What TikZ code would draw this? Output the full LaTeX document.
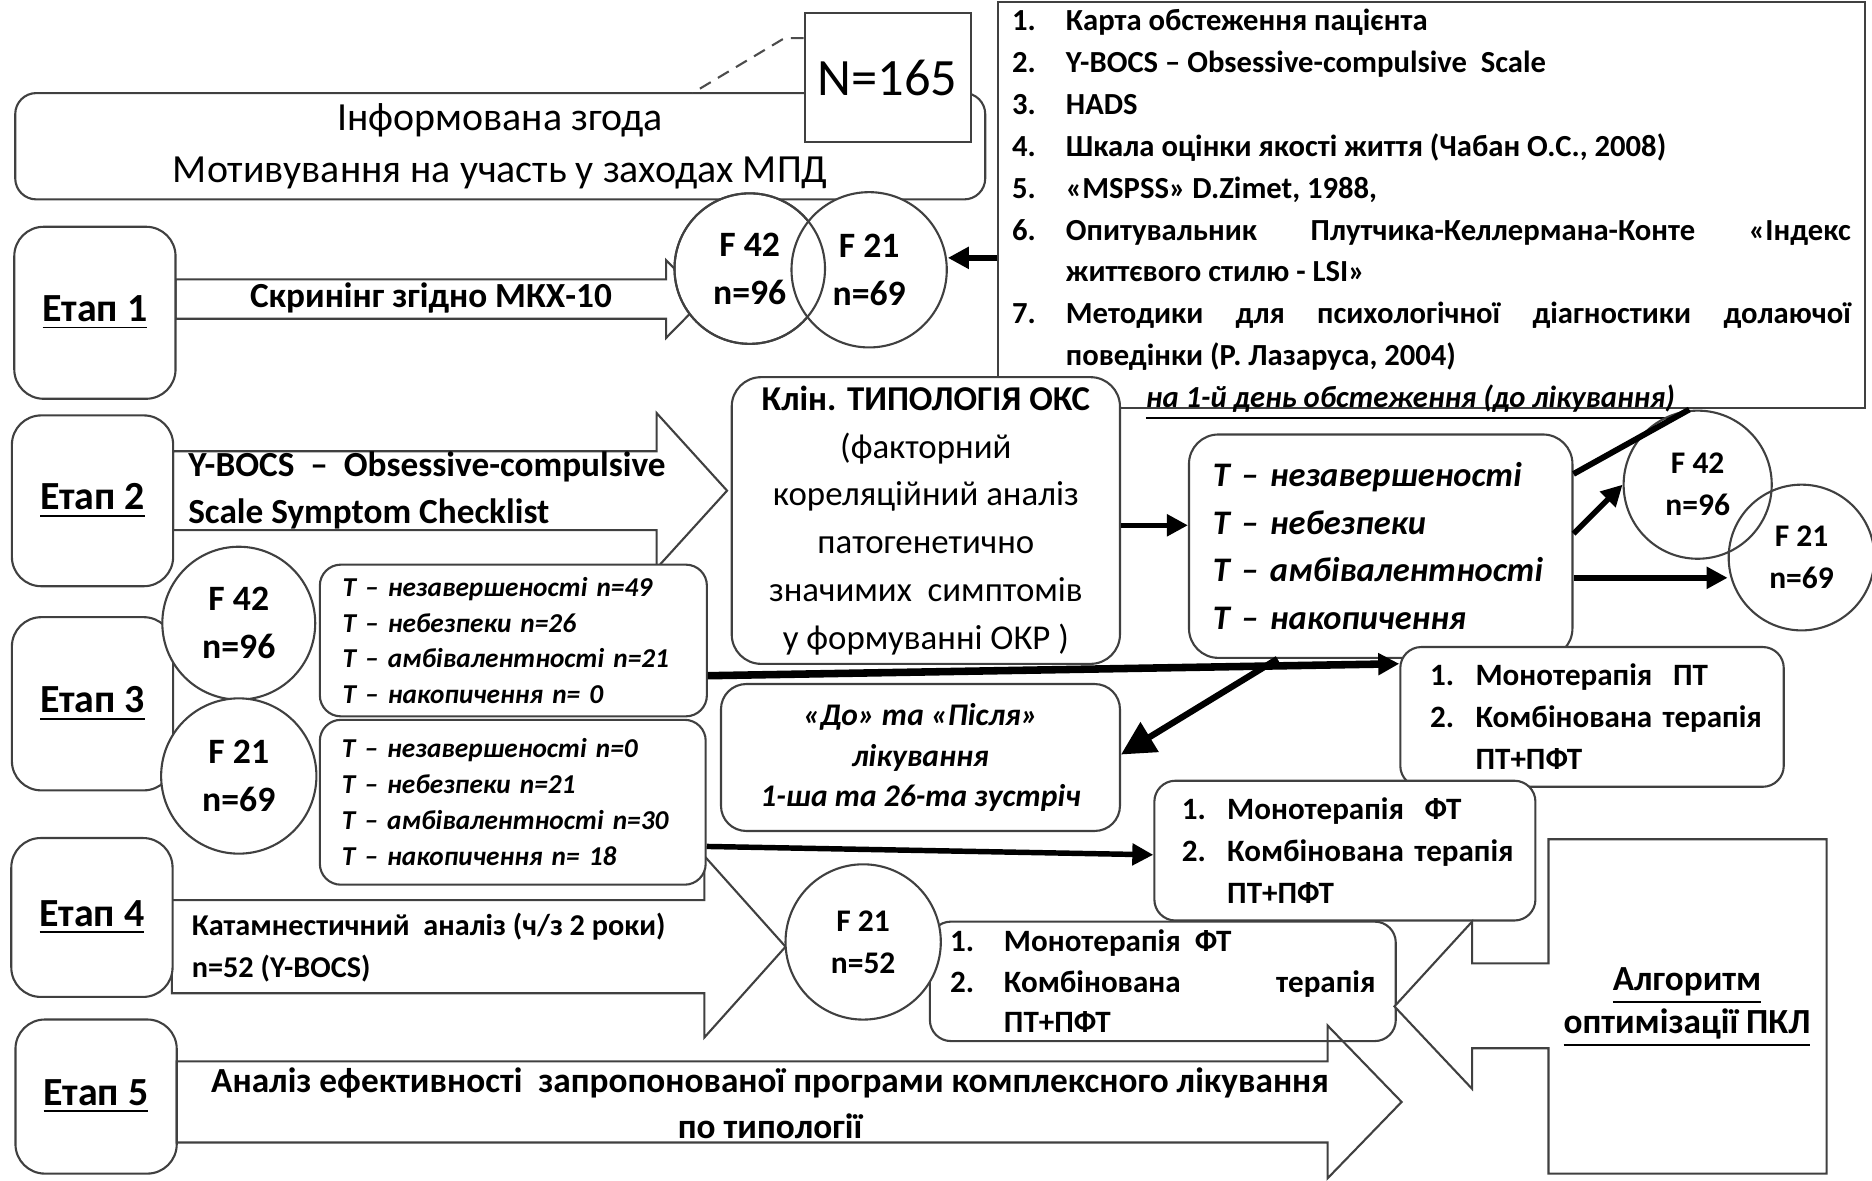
\documentclass[tikz,border=0pt]{standalone}
\usepackage{fontspec}
\setmainfont{Carlito}
\usetikzlibrary{arrows.meta}

\newcommand{\numitem}[3]{\noindent\hangindent=#1\hangafter=1\makebox[#1][l]{#2}#3\par}

\tikzset{
    box/.style={draw=black!75, line width=0.5pt, fill=white, inner sep=0pt},
    roundbox/.style={box, rounded corners=5pt},
    stagebox/.style={box, rounded corners=7pt, minimum width=1.35cm, font=\fontsize{9.5}{11}\selectfont\bfseries},
    group/.style={box, circle, align=center, font=\fontsize{8.5}{11.4}\selectfont\bfseries},
    smallgroup/.style={group, font=\fontsize{7.5}{10}\selectfont\bfseries},
    blockarrow/.style={draw=black!75, line width=0.5pt, fill=white},
    flow/.style={line width=1.3pt, -{Triangle[length=5pt,width=5pt]}},
    bigflow/.style={line width=1.5pt, -{Triangle[length=8pt,width=8pt]}},
}

\begin{document}
\begin{tikzpicture}[x=0.01cm,y=-0.01cm]
    \useasboundingbox (0,0) rectangle (1568,989);
    % methods and consent
    \node[box, anchor=south, inner xsep=0.12cm, inner ysep=0.02cm, font=\fontsize{7.3}{9.96}\selectfont\bfseries] (tests) at (1199,343) {\parbox[c][3.36cm][t]{7.02cm}{\parskip=0pt
        \vspace*{0.04cm}
        \numitem{0.45cm}{1.}{Карта обстеження пацієнта}%
        \numitem{0.45cm}{2.}{Y-BOCS – Obsessive-compulsive\ \ Scale}%
        \numitem{0.45cm}{3.}{HADS}%
        \numitem{0.45cm}{4.}{Шкала оцінки якості життя (Чабан О.С., 2008)}%
        \numitem{0.45cm}{5.}{«MSPSS» D.Zimet, 1988,}%
        \numitem{0.45cm}{6.}{Опитувальник Плутчика-Келлермана-Конте «Індекс\linebreak життєвого стилю - LSI»}%
        \numitem{0.45cm}{7.}{Методики для психологічної діагностики долаючої\linebreak поведінки (Р. Лазаруса, 2004)}%
        \vfill
        \noindent\hspace*{1.12cm}\textit{\underline{на 1-й день обстеження (до лікування)}}\par
        \vspace*{-0.05cm}}};
    \node[roundbox, minimum width=8.12cm, minimum height=0.89cm, align=center, font=\fontsize{9.5}{12.2}\selectfont] (consent) at (419,122.5) {Інформована згода\\Мотивування на участь у заходах МПД};
    \node[box, minimum width=1.39cm, minimum height=1.08cm, font=\fontsize{12.5}{14}\selectfont] (n165) at (743.5,65) {N=165};
    \coordinate (calloutbend) at (657,32);
    \coordinate (calloutfoot) at (580,78);
    \draw[black!70, densely dashed, line width=0.5pt] (calloutbend -| n165.west) -- (calloutbend) -- (calloutfoot);

    % stage arrows
    \draw[blockarrow] (147,234) -- (558,234) -- (558,218) -- (590,250.5) -- (558,283) -- (558,267) -- (147,267) -- cycle;
    \node[inner sep=0pt, font=\fontsize{8.4}{10}\selectfont\bfseries] (screening) at (361,250) {Скринінг згідно МКХ-10};
    \draw[blockarrow] (145,378) -- (550,378) -- (550,346) -- (609,411) -- (550,476) -- (550,444) -- (145,444) -- cycle;
    \node[anchor=west, align=left, inner sep=0pt, font=\fontsize{8.4}{11.1}\selectfont\bfseries] (checklist) at (157,411) {Y-BOCS \ – \ Obsessive-compulsive\\Scale Symptom Checklist};
    \draw[blockarrow] (144,754) -- (590,754) -- (590,717) -- (658,793) -- (590,869) -- (590,832) -- (144,832) -- cycle;
    \node[anchor=west, align=left, inner sep=0pt, font=\fontsize{7.2}{10}\selectfont\bfseries] (followup) at (160,794) {Катамнестичний \ аналіз (ч/з 2 роки)\\n=52 (Y-BOCS)};

    % stages
    \node[stagebox, minimum height=1.44cm] (etap1) at (79.5,262) {\underline{Етап 1}};
    \node[stagebox, minimum height=1.43cm] (etap2) at (77.5,419.5) {\underline{Етап 2}};
    \node[stagebox, minimum height=1.45cm] (etap3) at (77.5,589.5) {\underline{Етап 3}};
    \node[stagebox, minimum height=1.33cm] (etap4) at (77,768.5) {\underline{Етап 4}};
    \node[stagebox, minimum height=1.29cm] (etap5) at (80.5,918.5) {\underline{Етап 5}};

    % typology
    \node[roundbox, rounded corners=7pt, minimum width=3.25cm, minimum height=2.40cm, align=center, font=\fontsize{8.3}{11.4}\selectfont] (clin) at (775.5,436) {\textbf{Клін. ТИПОЛОГІЯ ОКС}\\(факторний\\кореляційний аналіз\\патогенетично\\значимих \ симптомів\\у формуванні ОКР )};
    \node[roundbox, rounded corners=7pt, minimum width=3.21cm, minimum height=1.87cm, text width=2.91cm, inner xsep=0.15cm, align=left, font=\fontsize{8.2}{11.3}\selectfont\bfseries\itshape] (types) at (1156.5,457.5) {\hspace*{0.05cm}T – незавершеності\\\hspace*{0.05cm}T – небезпеки\\\hspace*{0.05cm}T – амбівалентності\\\hspace*{0.05cm}T – накопичення};
    \node[roundbox, rounded corners=6pt, minimum width=3.34cm, minimum height=1.23cm, align=center, font=\fontsize{7.5}{9.7}\selectfont\bfseries\itshape] (dobox) at (771,634.5) {«До» та «Після»\\лікування\\1-ша та 26-та зустріч};
    \node[roundbox, minimum width=3.24cm, minimum height=1.27cm, text width=3.0cm, inner xsep=0.12cm, align=left, font=\fontsize{6.5}{8.5}\selectfont\bfseries\itshape] (t42) at (430,536.5) {\hspace*{0.07cm}T – незавершеності n=49\\\hspace*{0.07cm}T – небезпеки n=26\\\hspace*{0.07cm}T – амбівалентності n=21\\\hspace*{0.07cm}T – накопичення n= 0};
    \node[roundbox, minimum width=3.23cm, minimum height=1.38cm, text width=3.0cm, inner xsep=0.115cm, align=left, font=\fontsize{6.5}{8.6}\selectfont\bfseries\itshape] (t21) at (429.5,672) {\hspace*{0.07cm}T – незавершеності n=0\\\hspace*{0.07cm}T – небезпеки n=21\\\hspace*{0.07cm}T – амбівалентності n=30\\\hspace*{0.07cm}T – накопичення n= 18};

    % therapy
    \node[roundbox, minimum width=3.21cm, minimum height=1.17cm, text width=2.91cm, inner xsep=0.15cm, align=left, font=\fontsize{7.4}{10}\selectfont\bfseries] (mono1) at (1333.5,600.5) {\numitem{0.48cm}{\hspace*{0.1cm}1.}{Монотерапія\ \ ПТ}\numitem{0.48cm}{\hspace*{0.1cm}2.}{Комбінована терапія\newline ПТ+ПФТ}};
    \node[roundbox, minimum width=3.19cm, minimum height=1.17cm, text width=2.91cm, inner xsep=0.14cm, align=left, font=\fontsize{7.4}{10}\selectfont\bfseries] (mono2) at (1126.5,712.5) {\numitem{0.47cm}{\hspace*{0.09cm}1.}{Монотерапія\ \ ФТ}\numitem{0.47cm}{\hspace*{0.09cm}2.}{Комбінована терапія\newline ПТ+ПФТ}};
    \node[roundbox, minimum width=3.90cm, minimum height=1.00cm, text width=3.56cm, inner xsep=0.17cm, align=justify, font=\fontsize{7.4}{9.7}\selectfont\bfseries] (mono3) at (974,822) {\numitem{0.45cm}{1.}{Монотерапія\ \ ФТ}\numitem{0.45cm}{2.}{Комбінована терапія\linebreak ПТ+ПФТ}};
    \draw[black!75, line width=0.5pt] (148,889) -- (1112,889) -- (1112,859) -- (1174,923) -- (1112,987) -- (1112,957) -- (148,957) -- cycle;
    \node[align=center, inner sep=0pt, font=\fontsize{8.4}{10.8}\selectfont\bfseries] (evaluation) at (645,924) {Аналіз ефективності \ запропонованої програми комплексного лікування\\по типології};

    % algorithm
    \draw[blockarrow] (1297,703) -- (1530,703) -- (1530,983) -- (1297,983) -- (1297,878) -- (1233,878) -- (1233,912) -- (1168,843) -- (1233,772) -- (1233,807) -- (1297,807) -- cycle;
    \node[align=center, inner sep=0pt, font=\fontsize{8.4}{10.2}\selectfont\bfseries] (algo) at (1413,844) {\underline{Алгоритм}\\\underline{оптимізації ПКЛ}};

    % groups
    \node[group, minimum size=1.26cm] (c42a) at (628,225) {F 42\\n=96};
    \node[group, minimum size=1.30cm] (c21a) at (728,226) {F 21\\n=69};
    \draw[black!75, line width=0.5pt] (c42a.center) circle[radius=0.63cm];
    \node[group, minimum size=1.28cm] (c42b) at (200,522) {F 42\\n=96};
    \node[group, minimum size=1.30cm] (c21b) at (200,650) {F 21\\n=69};
    \node[smallgroup, fill=none, minimum size=1.24cm] (c42c) at (1422,406) {F 42\\n=96};
    \node[smallgroup, fill=none, minimum size=1.22cm] (c21c) at (1509,467) {F 21\\n=69};
    \node[smallgroup, minimum size=1.30cm] (c21d) at (723,789) {F 21\\n=52};

    % connections
    \draw[flow] (tests.west |- 0,216) -- (c21a.east |- 0,216);
    \draw[flow] (clin.east |- 0,440) -- (types.west |- 0,440);
    \draw[line width=1.4pt] (types.east |- 0,397) -- (tests.south -| 1415,0);
    \draw[flow] (types.east |- 0,447) -- (c42c.west);
    \draw[flow] (types.east |- 0,484) -- (c21c.west |- 0,484);
    \draw[flow, line width=1.8pt] (t42.east |- 0,566) -- (mono1.west |- 0,556);
    \draw[bigflow] (types.south -| 1070,0) -- (dobox.east |- 0,632);
    \draw[flow] (t21.east |- 0,709) -- (mono2.west |- 0,716);
\end{tikzpicture}
\end{document}
